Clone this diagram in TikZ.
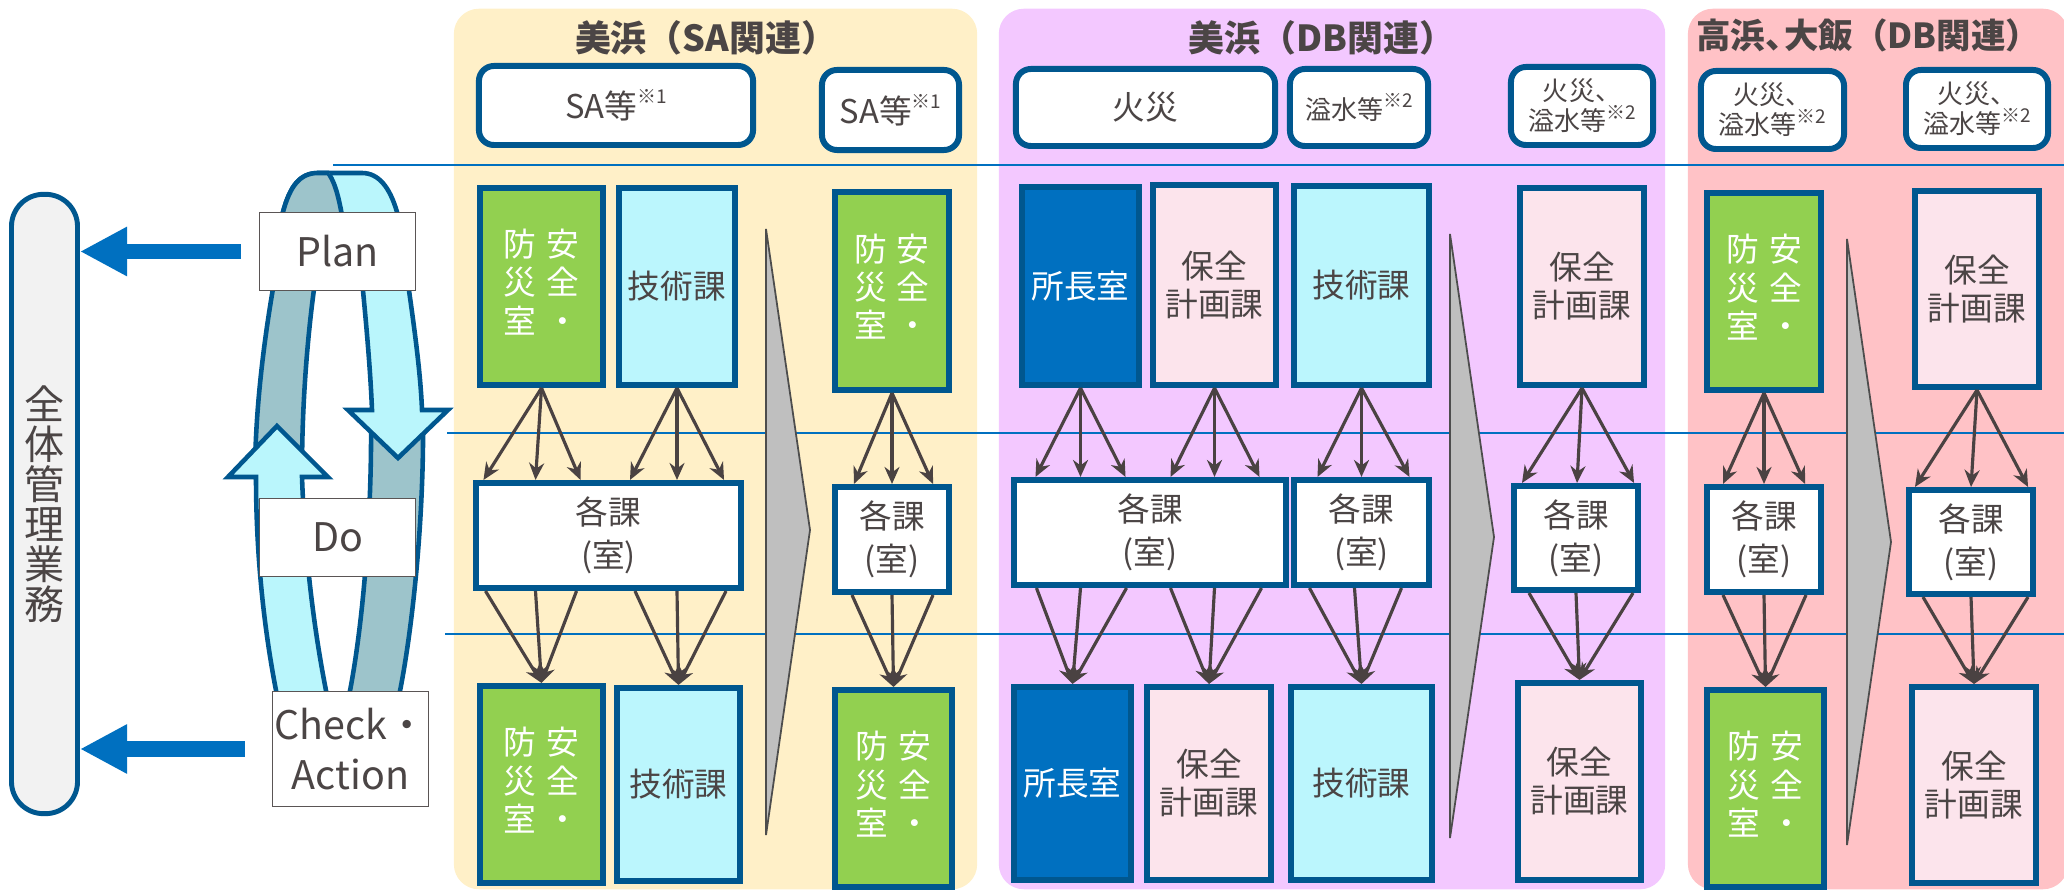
\documentclass[tikz,border=0pt]{standalone}
\usepackage{fontspec}
\setmainfont{Noto Sans CJK JP}
\usepackage{tikz}
\usetikzlibrary{arrows.meta}

\definecolor{boxblue}{HTML}{00578F}
\definecolor{arrowblue}{HTML}{0070C0}
\definecolor{txtgray}{HTML}{4B4545}
\definecolor{saYellow}{HTML}{FFF0C8}
\definecolor{dbPurple}{HTML}{F3C8FF}
\definecolor{toSalmon}{HTML}{FFC2C6}
\definecolor{safeGreen}{HTML}{92D050}
\definecolor{techCyan}{HTML}{BBF6FD}
\definecolor{hoPink}{HTML}{FCE4EC}
\definecolor{chiefBlue}{HTML}{0070C0}
\definecolor{ringDark}{HTML}{9DC4CB}
\definecolor{ringLight}{HTML}{BAF6FC}
\definecolor{pillGray}{HTML}{F2F2F2}
\definecolor{chevGray}{HTML}{BFBFBF}
\definecolor{chevLine}{HTML}{4D4D4D}
\definecolor{arrowGray}{HTML}{4A4242}
\definecolor{pdcaLine}{HTML}{5A5555}

\newcommand{\fsTitle}{\fontsize{10.2pt}{11pt}\selectfont\bfseries}
\newcommand{\fsBox}{\fontsize{9.3pt}{10.8pt}\selectfont}
\newcommand{\fsEach}{\fontsize{9.3pt}{12.2pt}\selectfont}
\newcommand{\fsSmall}{\fontsize{7.4pt}{8.5pt}\selectfont}
\newcommand{\fsVert}{\fontsize{9.3pt}{10pt}\selectfont}
\newcommand{\fsPdca}{\fontsize{11.2pt}{14pt}\selectfont}
\newcommand{\fsWhole}{\fontsize{11.4pt}{11.4pt}\selectfont}
\newcommand{\kome}[1]{\raisebox{0.45em}{\fontsize{5.4pt}{6pt}\selectfont ※#1}}
\newcommand{\bosai}{\begin{tabular}{@{}c@{\hspace{0.1cm}}c@{}}防&安\\災&全\\室&・\end{tabular}}

\tikzset{
  panel/.style={rounded corners=0.25cm, inner sep=0pt, minimum height=8.80cm},
  title/.style={text=txtgray, font=\fsTitle, inner sep=0pt},
  capbox/.style={draw=boxblue, line width=1.7pt, rounded corners=0.15cm, fill=white,
    inner sep=0pt, text=txtgray, align=center, font=\fsBox},
  dept/.style={draw=boxblue, line width=1.7pt, inner sep=0pt, text=txtgray,
    align=center, font=\fsBox},
  safetybox/.style={dept, fill=safeGreen, text=white, font=\fsVert},
  techbox/.style={dept, fill=techCyan},
  maintbox/.style={dept, fill=hoPink},
  chiefbox/.style={dept, fill=chiefBlue, text=white},
  sectbox/.style={dept, fill=white, font=\fsEach},
  pdca/.style={draw=pdcaLine, line width=0.5pt, fill=white, text=txtgray,
    inner sep=0pt, align=center, font=\fsPdca},
  ringline/.style={draw=boxblue, line width=1.3pt},
  report/.style={-{Triangle[length=0.47cm,width=0.46cm]}, draw=arrowblue, line width=0.15cm},
  chev/.style={fill=chevGray, draw=chevLine, line width=0.5pt},
  sep/.style={draw=arrowblue, line width=0.8pt},
  flow/.style={->, draw=arrowGray, line width=0.9pt}
}

\begin{document}
\begin{tikzpicture}[x=0.01cm, y=-0.01cm, >={Stealth[length=0.17cm,width=0.15cm]}]
      \useasboundingbox (0,0) rectangle (2064,892);

      %Panneaux
      \node[panel, fill=saYellow, minimum width=5.23cm] (saPanel) at (715.5,449) {};
      \node[panel, fill=dbPurple, minimum width=6.66cm] (dbPanel) at (1332,449) {};
      \node[panel, fill=toSalmon, minimum width=3.80cm] (toPanel) at (1878,449) {};

      %Titres
      \node[title] (saTitle) at (706,38) {美浜（SA関連）};
      \node[title] (dbTitle) at (1322,38) {美浜（DB関連）};
      \node[title, font=\fontsize{9.8pt}{11pt}\selectfont\bfseries] (toTitle) at (1868,35) {高浜\makebox[0.55em][l]{、}大飯（DB関連）};

      %Séparations
      \draw[sep] (333,165) -- (2064,165);
      \draw[sep] (447,433) -- (2064,433);
      \draw[sep] (445,634) -- (2064,634);

      %Anneau PDCA
      \filldraw[ringline, fill=ringLight] (280,240) -- (283,212) .. controls (290,186) and (300,173) .. (318,173) -- (362,173) .. controls (379,173) and (390,188) .. (397,212) -- (402,240) -- cycle;
      \begin{scope}
        \clip (240,160) -- (329,160) -- (329,173) .. controls (336,185) and (340,200) .. (346,240) -- (240,240) -- cycle;
        \filldraw[ringline, fill=ringDark] (280,240) -- (283,212) .. controls (290,186) and (300,173) .. (318,173) -- (362,173) .. controls (379,173) and (390,188) .. (397,212) -- (402,240) -- cycle;
      \end{scope}
      \draw[ringline] (329,174) .. controls (336,185) and (340,200) .. (346,240);
      \filldraw[ringline, fill=ringDark] (282,240) .. controls (272,290) and (256,380) .. (255,470) -- (302,470) .. controls (302,380) and (312,290) .. (322,240) -- cycle;
      \filldraw[ringline, fill=ringDark] (371,420) -- (423,420) .. controls (424,520) and (412,640) .. (396,710) -- (346,710) .. controls (362,640) and (372,520) .. (371,420) -- cycle;
      \filldraw[ringline, fill=ringLight] (302,477) -- (328,477) -- (277,426) -- (228,477) -- (256,477) .. controls (256,560) and (265,640) .. (280,710) -- (330,710) .. controls (315,640) and (305,560) .. (302,477) -- cycle;
      \filldraw[ringline, fill=ringLight] (358,240) -- (402,240) .. controls (410,300) and (420,360) .. (422,410) -- (448,410) -- (398,458) -- (348,410) -- (372,410) .. controls (370,360) and (364,300) .. (358,240) -- cycle;

      %Plan, Do, Check
      \node[pdca, minimum width=1.56cm, minimum height=0.78cm] (plan) at (337.5,251.5) {Plan};
      \node[pdca, minimum width=1.56cm, minimum height=0.78cm] (do) at (337.5,537.5) {Do};
      \node[pdca, minimum width=1.56cm, minimum height=1.15cm] (check) at (350.5,749) {Check・\\Action};

      %Gestion globale
      \node[draw=boxblue, line width=1.4pt, fill=pillGray, rounded corners=0.32cm, minimum width=0.66cm,
            minimum height=6.19cm, inner sep=0pt, text=txtgray, align=center, font=\fsWhole] (whole) at (44.5,504) {全\\体\\管\\理\\業\\務};
      \draw[report, shorten <=0.18cm] (plan.west) -- (plan.west -| whole.east);
      \draw[report, shorten <=0.27cm] (check.west) -- (check.west -| whole.east);

      %Chevrons
      \filldraw[chev] (766,229) -- (810,530) -- (766,835) -- cycle;
      \filldraw[chev] (1450,234) -- (1494,537) -- (1450,838) -- cycle;
      \filldraw[chev] (1847,239) -- (1891,542) -- (1847,845) -- cycle;

      %Cas
      \node[capbox, minimum width=2.74cm, minimum height=0.79cm] (saTop1) at (616,105.5) {SA等\kome{1}};
      \node[capbox, minimum width=1.37cm, minimum height=0.80cm] (saTop2) at (890.5,110) {SA等\kome{1}};
      \node[capbox, minimum width=2.59cm, minimum height=0.77cm] (dbTop1) at (1145.5,107.5) {火災};
      \node[capbox, minimum width=1.38cm, minimum height=0.77cm, font=\fsSmall] (dbTop2) at (1359,107.5) {溢水等\kome{2}};
      \node[capbox, minimum width=1.42cm, minimum height=0.78cm, font=\fsSmall] (dbTop3) at (1582,106) {火災、\\溢水等\kome{2}};
      \node[capbox, minimum width=1.43cm, minimum height=0.78cm, font=\fsSmall] (toTop1) at (1772.5,110) {火災、\\溢水等\kome{2}};
      \node[capbox, minimum width=1.42cm, minimum height=0.78cm, font=\fsSmall] (toTop2) at (1977,109) {火災、\\溢水等\kome{2}};

      %Plan : services
      \node[safetybox, minimum width=1.23cm, minimum height=1.97cm] (saA1) at (541.5,286.5) {\bosai};
      \node[techbox, minimum width=1.16cm, minimum height=1.97cm] (saB1) at (677,286.5) {技術課};
      \node[safetybox, minimum width=1.14cm, minimum height=1.98cm] (saC1) at (892,291) {\bosai};
      \node[chiefbox, minimum width=1.17cm, minimum height=1.98cm] (dbA1) at (1080.5,286) {所長室};
      \node[maintbox, minimum width=1.23cm, minimum height=2.00cm] (dbB1) at (1214.5,285) {保全\\計画課};
      \node[techbox, minimum width=1.35cm, minimum height=1.99cm] (dbC1) at (1361.5,285.5) {技術課};
      \node[maintbox, minimum width=1.24cm, minimum height=1.97cm] (dbD1) at (1582,286.5) {保全\\計画課};
      \node[safetybox, minimum width=1.14cm, minimum height=1.97cm] (toA1) at (1764,291.5) {\bosai};
      \node[maintbox, minimum width=1.24cm, minimum height=1.96cm] (toB1) at (1977,289) {保全\\計画課};

      %Do : chaque service
      \node[sectbox, minimum width=2.65cm, minimum height=1.05cm] (saK1) at (608.5,535.5) {各課\\(室)};
      \node[sectbox, minimum width=1.14cm, minimum height=1.05cm] (saK2) at (892,539.5) {各課\\(室)};
      \node[sectbox, minimum width=2.72cm, minimum height=1.05cm] (dbK1) at (1150,532.5) {各課\\(室)};
      \node[sectbox, minimum width=1.35cm, minimum height=1.05cm] (dbK2) at (1361.5,532.5) {各課\\(室)};
      \node[sectbox, minimum width=1.24cm, minimum height=1.04cm] (dbK3) at (1576,538) {各課\\(室)};
      \node[sectbox, minimum width=1.14cm, minimum height=1.05cm] (toK1) at (1764,539.5) {各課\\(室)};
      \node[sectbox, minimum width=1.24cm, minimum height=1.04cm] (toK2) at (1971,542) {各課\\(室)};

      %Check : services
      \node[safetybox, minimum width=1.23cm, minimum height=1.97cm] (saA2) at (541.5,784.5) {\bosai};
      \node[techbox, minimum width=1.23cm, minimum height=1.93cm] (saB2) at (678.5,784.5) {技術課};
      \node[safetybox, minimum width=1.17cm, minimum height=1.97cm] (saC2) at (893.5,788.5) {\bosai};
      \node[chiefbox, minimum width=1.17cm, minimum height=1.93cm] (dbA2) at (1072.5,783.5) {所長室};
      \node[maintbox, minimum width=1.24cm, minimum height=1.93cm] (dbB2) at (1209,783.5) {保全\\計画課};
      \node[techbox, minimum width=1.41cm, minimum height=1.93cm] (dbC2) at (1361.5,783.5) {技術課};
      \node[maintbox, minimum width=1.23cm, minimum height=1.97cm] (dbD2) at (1579.5,781.5) {保全\\計画課};
      \node[safetybox, minimum width=1.17cm, minimum height=1.97cm] (toA2) at (1765.5,788.5) {\bosai};
      \node[maintbox, minimum width=1.24cm, minimum height=1.96cm] (toB2) at (1974,785) {保全\\計画課};

      %Flèches vers les services
      \draw[flow] (saA1.south) -- ([xshift=-0.58cm]saA1.south |- saK1.north);
      \draw[flow] (saA1.south) -- ([xshift=-0.06cm]saA1.south |- saK1.north);
      \draw[flow] (saA1.south) -- ([xshift=0.39cm]saA1.south |- saK1.north);
      \draw[flow] (saB1.south) -- ([xshift=-0.47cm]saB1.south |- saK1.north);
      \draw[flow] (saB1.south) -- (saB1.south |- saK1.north);
      \draw[flow] (saB1.south) -- ([xshift=0.47cm]saB1.south |- saK1.north);
      \draw[flow] (saC1.south) -- ([xshift=-0.38cm]saC1.south |- saK2.north);
      \draw[flow] (saC1.south) -- (saC1.south |- saK2.north);
      \draw[flow] (saC1.south) -- ([xshift=0.41cm]saC1.south |- saK2.north);
      \draw[flow] (dbA1.south) -- ([xshift=-0.45cm]dbA1.south |- dbK1.north);
      \draw[flow] (dbA1.south) -- (dbA1.south |- dbK1.north);
      \draw[flow] (dbA1.south) -- ([xshift=0.45cm]dbA1.south |- dbK1.north);
      \draw[flow] (dbB1.south) -- ([xshift=-0.44cm]dbB1.south |- dbK1.north);
      \draw[flow] (dbB1.south) -- (dbB1.south |- dbK1.north);
      \draw[flow] (dbB1.south) -- ([xshift=0.45cm]dbB1.south |- dbK1.north);
      \draw[flow] (dbC1.south) -- ([xshift=-0.44cm]dbC1.south |- dbK2.north);
      \draw[flow] (dbC1.south) -- (dbC1.south |- dbK2.north);
      \draw[flow] (dbC1.south) -- ([xshift=0.48cm]dbC1.south |- dbK2.north);
      \draw[flow] (dbD1.south) -- ([xshift=-0.60cm]dbD1.south |- dbK3.north);
      \draw[flow] (dbD1.south) -- ([xshift=-0.05cm]dbD1.south |- dbK3.north);
      \draw[flow] (dbD1.south) -- ([xshift=0.52cm]dbD1.south |- dbK3.north);
      \draw[flow] (toA1.south) -- ([xshift=-0.41cm]toA1.south |- toK1.north);
      \draw[flow] (toA1.south) -- (toA1.south |- toK1.north);
      \draw[flow] (toA1.south) -- ([xshift=0.41cm]toA1.south |- toK1.north);
      \draw[flow] (toB1.south) -- ([xshift=-0.62cm]toB1.south |- toK2.north);
      \draw[flow] (toB1.south) -- ([xshift=-0.06cm]toB1.south |- toK2.north);
      \draw[flow] (toB1.south) -- ([xshift=0.51cm]toB1.south |- toK2.north);

      %Flèches vers la vérification
      \draw[flow] ([xshift=-0.56cm]saA1.south |- saK1.south) -- (saA2.north);
      \draw[flow] ([xshift=-0.06cm]saA1.south |- saK1.south) -- (saA2.north);
      \draw[flow] ([xshift=0.35cm]saA1.south |- saK1.south) -- (saA2.north);
      \draw[flow] ([xshift=-0.42cm]saB1.south |- saK1.south) -- (saB2.north);
      \draw[flow] (saB1.south |- saK1.south) -- (saB2.north);
      \draw[flow] ([xshift=0.49cm]saB1.south |- saK1.south) -- (saB2.north);
      \draw[flow] ([xshift=-0.40cm]saC1.south |- saK2.south) -- (saC2.north);
      \draw[flow] (saC1.south |- saK2.south) -- (saC2.north);
      \draw[flow] ([xshift=0.41cm]saC1.south |- saK2.south) -- (saC2.north);
      \draw[flow] ([xshift=-0.44cm]dbA1.south |- dbK1.south) -- (dbA2.north);
      \draw[flow] (dbA1.south |- dbK1.south) -- (dbA2.north);
      \draw[flow] ([xshift=0.46cm]dbA1.south |- dbK1.south) -- (dbA2.north);
      \draw[flow] ([xshift=-0.44cm]dbB1.south |- dbK1.south) -- (dbB2.north);
      \draw[flow] (dbB1.south |- dbK1.south) -- (dbB2.north);
      \draw[flow] ([xshift=0.47cm]dbB1.south |- dbK1.south) -- (dbB2.north);
      \draw[flow] ([xshift=-0.52cm]dbC1.south |- dbK2.south) -- (dbC2.north);
      \draw[flow] ([xshift=-0.07cm]dbC1.south |- dbK2.south) -- (dbC2.north);
      \draw[flow] ([xshift=0.40cm]dbC1.south |- dbK2.south) -- (dbC2.north);
      \draw[flow] ([xshift=-0.53cm]dbD1.south |- dbK3.south) -- (dbD2.north);
      \draw[flow] ([xshift=-0.06cm]dbD1.south |- dbK3.south) -- (dbD2.north);
      \draw[flow] ([xshift=0.51cm]dbD1.south |- dbK3.south) -- (dbD2.north);
      \draw[flow] ([xshift=-0.41cm]toA1.south |- toK1.south) -- (toA2.north);
      \draw[flow] (toA1.south |- toK1.south) -- (toA2.north);
      \draw[flow] ([xshift=0.42cm]toA1.south |- toK1.south) -- (toA2.north);
      \draw[flow] ([xshift=-0.54cm]toB1.south |- toK2.south) -- (toB2.north);
      \draw[flow] ([xshift=-0.06cm]toB1.south |- toK2.south) -- (toB2.north);
      \draw[flow] ([xshift=0.51cm]toB1.south |- toK2.south) -- (toB2.north);
\end{tikzpicture}
\end{document}
